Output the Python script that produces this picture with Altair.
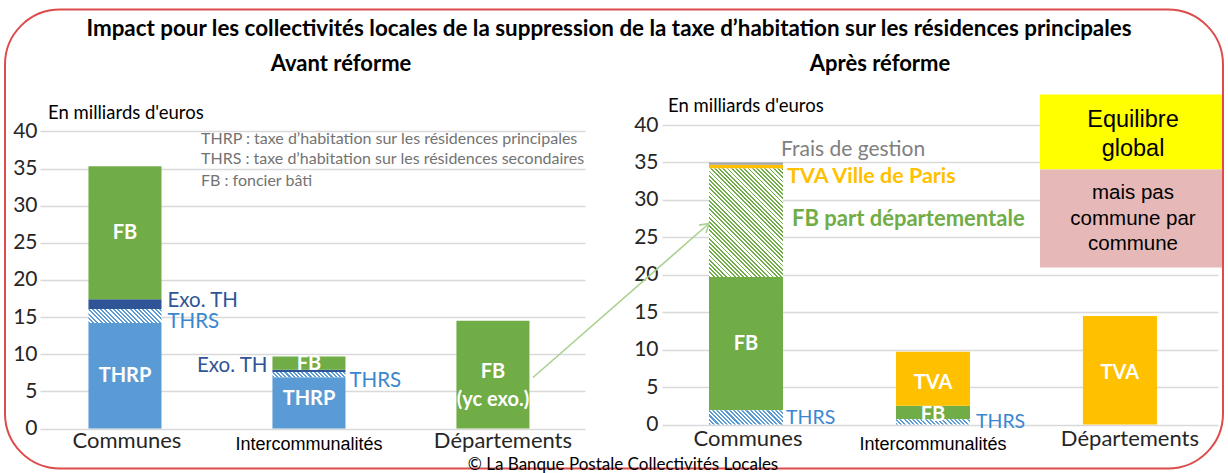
import math
import altair as alt
import pandas as pd

# ---------------- data ----------------
categories = ["Communes", "Intercommunalités", "Départements"]

# Avant réforme (Md€)
avant_thrp = [14.2, 6.9, 0.0]
avant_thrs = [1.9, 0.7, 0.0]
avant_exo = [1.3, 0.3, 0.0]
avant_fb = [17.9, 1.8, 14.5]

# Après réforme (Md€)
apres_thrs = [1.9, 0.7, 0.0]
apres_fb = [17.8, 1.8, 0.0]
apres_fb_dep = [14.5, 0.0, 0.0]
apres_tva_paris = [0.5, 0.0, 0.0]
apres_frais = [0.3, 0.0, 0.0]
apres_tva = [0.0, 7.2, 14.5]

y_ticks = [0, 5, 10, 15, 20, 25, 30, 35, 40]

# ---------------- styles ----------------
CAL = "Lato"
ARIAL = "Liberation Sans"
BLUE = "#5B9BD5"
DBLUE = "#2F5597"
LBLUE_TXT = "#3A87D0"
GREEN = "#70AD47"
YELLOW = "#FFC000"
GREY = "#A5A5A5"
GRID = "#D9D9D9"

seg_names = ["THRP", "Exo. TH", "FB", "TVA Paris", "Frais", "TVA"]
seg_colors = [BLUE, DBLUE, GREEN, YELLOW, GREY, YELLOW]
color_scale = alt.Scale(domain=seg_names, range=seg_colors)


def stack(cats, series):
    rows = []
    for i, c in enumerate(cats):
        base = 0.0
        for name, vals in series:
            v = vals[i]
            rows.append(dict(cat=c, seg=name, start=base, end=base + v, mid=base + v / 2, value=v))
            base += v
    df = pd.DataFrame(rows)
    return df[df.value > 0].reset_index(drop=True)


avant = stack(categories, [("THRP", avant_thrp), ("THRS", avant_thrs),
                           ("Exo. TH", avant_exo), ("FB", avant_fb)])
apres = stack(categories, [("THRS", apres_thrs), ("FB", apres_fb), ("FB dep", apres_fb_dep),
                           ("TVA Paris", apres_tva_paris), ("Frais", apres_frais), ("TVA", apres_tva)])

ONE = pd.DataFrame({"k": [0]})

# panel geometry
LW, LH, LYMAX = 545, 303.5, 40.87
RW, RH, RYMAX = 556, 299.5, 40.0
l_step = LW / (3 - 0.603 + 2 * 0.2826)
l_bw = l_step * (1 - 0.603)
r_step = RW / (3 - 0.604 + 2 * 0.289)
r_bw = r_step * (1 - 0.604)

xl = alt.Scale(domain=categories, paddingInner=0.603, paddingOuter=0.2826, align=0.466)
xr = alt.Scale(domain=categories, paddingInner=0.604, paddingOuter=0.289, align=0.435)
yl = alt.Scale(domain=[0, LYMAX], nice=False, zero=True)
yr = alt.Scale(domain=[0, RYMAX], nice=False, zero=True)


def yaxis(pad):
    return alt.Axis(values=y_ticks, grid=True, gridColor=GRID, gridWidth=1.5, domain=False,
                    ticks=False, labelFontSize=21, labelFont=CAL, labelColor="#262626",
                    labelPadding=pad, title=None)


AXL = yaxis(3)
AXR = yaxis(4)


def hatch(c_stripe, c_bg, w, h, period=4.2, frac=0.5):
    gx = (1 + h / w) / (1 + (h / w) ** 2)
    total = w + h
    stops = []
    k = 0
    while k * period / total < 1:
        t0 = k * period / total
        t1 = min((k * period + frac * period) / total, 1)
        t2 = min((k + 1) * period / total, 1)
        stops += [(t0, c_stripe), (t1, c_stripe), (t1, c_bg), (t2, c_bg)]
        k += 1
    return alt.LinearGradient(gradient="linear", x1=0, y1=1, x2=gx, y2=1 - gx * h / w,
                              stops=[alt.GradientStop(offset=o, color=c) for o, c in stops])


def txt(text, x, y, size, color="black", weight="normal", font=CAL, align="center"):
    return alt.Chart(ONE).mark_text(text=text, fontSize=size, color=color, fontWeight=weight,
                                    font=font, align=align, baseline="middle").encode(
        x=alt.value(x), y=alt.value(y))


def seg_label(df, xs, ys, ax, cat, seg, text, size=20, color="white", weight="bold",
              dx=0, dy=0, align="center", font=CAL, lh=None):
    row = df[(df.cat == cat) & (df.seg == seg)]
    kw = dict(text=text, fontSize=size, color=color, fontWeight=weight, font=font,
              align=align, baseline="middle", dx=dx, dy=dy)
    if lh:
        kw["lineHeight"] = lh
    return alt.Chart(row).mark_text(**kw).encode(
        x=alt.X("cat:N", scale=xs, axis=None), y=alt.Y("mid:Q", scale=ys, axis=ax))


def hatch_bar(df, xs, ys, ax, cat, seg, grad):
    row = df[(df.cat == cat) & (df.seg == seg)]
    return alt.Chart(row).mark_bar(fill=grad, stroke=None).encode(
        x=alt.X("cat:N", scale=xs, axis=None),
        y=alt.Y("start:Q", scale=ys, axis=ax), y2="end:Q")


def cat_labels(xs, h, y_main, y_inter, dx_dep):
    d = pd.DataFrame({"cat": categories})
    out = []
    for c in categories:
        if c == "Intercommunalités":
            m = alt.Chart(d).transform_filter(alt.datum.cat == c).mark_text(
                fontSize=18, font=ARIAL, color="black", baseline="middle")
            yy = h + y_inter
        else:
            m = alt.Chart(d).transform_filter(alt.datum.cat == c).mark_text(
                fontSize=22, font=CAL, color="#262626", baseline="middle",
                dx=dx_dep if c == "Départements" else 2)
            yy = h + y_main
        out.append(m.encode(x=alt.X("cat:N", scale=xs, axis=None), y=alt.value(yy), text="cat:N"))
    return out


def solid(df, xs, ys, ax, segs):
    return alt.Chart(df).transform_filter(
        alt.FieldOneOfPredicate(field="seg", oneOf=segs)).mark_bar().encode(
        x=alt.X("cat:N", scale=xs, axis=None),
        y=alt.Y("start:Q", scale=ys, axis=ax), y2="end:Q",
        color=alt.Color("seg:N", scale=color_scale, legend=None))


# ---------------- left panel: avant réforme ----------------
left_layers = [
    alt.Chart(ONE).mark_rect(filled=False, stroke="#DD4B4B", strokeWidth=2, cornerRadius=55).encode(
        x=alt.value(-35), x2=alt.value(1183), y=alt.value(-115.5), y2=alt.value(343.5)),
    solid(avant, xl, yl, AXL, ["THRP", "Exo. TH", "FB"]),
    hatch_bar(avant, xl, yl, AXL, "Communes", "THRS", hatch(BLUE, "white", l_bw, 1.9 * LH / LYMAX)),
    hatch_bar(avant, xl, yl, AXL, "Intercommunalités", "THRS", hatch(BLUE, "white", l_bw, 0.7 * LH / LYMAX)),
    seg_label(avant, xl, yl, AXL, "Communes", "FB", "FB"),
    seg_label(avant, xl, yl, AXL, "Communes", "THRP", "THRP"),
    seg_label(avant, xl, yl, AXL, "Intercommunalités", "FB", "FB", dy=1),
    seg_label(avant, xl, yl, AXL, "Intercommunalités", "THRP", "THRP", dy=-4),
    seg_label(avant, xl, yl, AXL, "Départements", "FB", ["FB", "(yc exo.)"], dy=-3, lh=28),
    seg_label(avant, xl, yl, AXL, "Communes", "Exo. TH", "Exo. TH", size=20.5, color=DBLUE,
              weight="normal", dx=l_bw / 2 + 6, dy=-3.5, align="left"),
    seg_label(avant, xl, yl, AXL, "Communes", "THRS", "THRS", size=20.5, color=LBLUE_TXT,
              weight="normal", dx=l_bw / 2 + 6, dy=6.5, align="left"),
    seg_label(avant, xl, yl, AXL, "Intercommunalités", "Exo. TH", "Exo. TH", size=20.5, color=DBLUE,
              weight="normal", dx=-(l_bw / 2 + 5), dy=-4.5, align="right"),
    seg_label(avant, xl, yl, AXL, "Intercommunalités", "THRS", "THRS", size=20.5, color=LBLUE_TXT,
              weight="normal", dx=l_bw / 2 + 4, dy=6, align="left"),
    *cat_labels(xl, LH, 12, 16, 10),
    txt("Impact pour les collectivités locales de la suppression de la taxe d’habitation sur les résidences principales",
        569, -96.5, 22.4, weight="bold"),
    txt("Avant réforme", 301, -61.5, 22, weight="bold"),
    txt("En milliards d'euros", 8, -12.5, 18.5, align="left"),
    txt("THRP : taxe d’habitation sur les résidences principales", 161, 13.5, 16, color="#737373", align="left"),
    txt("THRS : taxe d’habitation sur les résidences secondaires", 161, 33.5, 16, color="#737373", align="left"),
    txt("FB : foncier bâti", 161, 55.5, 16, color="#737373", align="left"),
    txt("© La Banque Postale Collectivités Locales", 583, 340, 17),
]
left = alt.layer(*left_layers).properties(width=LW, height=LH)

# ---------------- right panel: après réforme ----------------
# arrow (annotation) from the départements FB bar to the communes "FB part départementale"
tip_x, tip_y, tail_x, tail_y = 47, 98.5, -129, 252.5
ang = math.atan2(tip_y - tail_y, tip_x - tail_x)
arms = []
for s in (1, -1):
    a = ang + math.pi - s * math.radians(32)
    arms.append(alt.Chart(ONE).mark_rule(color="#A9D18E", strokeWidth=1.6).encode(
        x=alt.value(tip_x), y=alt.value(tip_y),
        x2=alt.value(tip_x + 10 * math.cos(a)), y2=alt.value(tip_y + 10 * math.sin(a))))

right_layers = [
    solid(apres, xr, yr, AXR, ["FB", "TVA Paris", "Frais", "TVA"]),
    hatch_bar(apres, xr, yr, AXR, "Communes", "FB dep", hatch(GREEN, "white", r_bw, 14.5 * RH / RYMAX, frac=0.45)),
    hatch_bar(apres, xr, yr, AXR, "Communes", "THRS", hatch(BLUE, "white", r_bw, 1.9 * RH / RYMAX)),
    hatch_bar(apres, xr, yr, AXR, "Intercommunalités", "THRS", hatch(BLUE, "white", r_bw, 0.7 * RH / RYMAX)),
    seg_label(apres, xr, yr, AXR, "Communes", "FB", "FB"),
    seg_label(apres, xr, yr, AXR, "Intercommunalités", "TVA", "TVA", dy=4),
    seg_label(apres, xr, yr, AXR, "Intercommunalités", "FB", "FB", dy=2),
    seg_label(apres, xr, yr, AXR, "Départements", "TVA", "TVA", dy=3),
    seg_label(apres, xr, yr, AXR, "Communes", "Frais", "Frais de gestion", size=21, color="#808080",
              weight="normal", dx=r_bw / 2 - 2, dy=-14, align="left"),
    seg_label(apres, xr, yr, AXR, "Communes", "TVA Paris", "TVA Ville de Paris", size=21.5, color=YELLOW,
              dx=r_bw / 2 + 4, dy=10, align="left"),
    seg_label(apres, xr, yr, AXR, "Communes", "FB dep", "FB part départementale", size=22, color=GREEN,
              dx=r_bw / 2 + 9, dy=-4, align="left"),
    seg_label(apres, xr, yr, AXR, "Communes", "THRS", "THRS", size=19.5, color=LBLUE_TXT,
              weight="normal", dx=r_bw / 2 + 3, dy=1, align="left"),
    seg_label(apres, xr, yr, AXR, "Intercommunalités", "THRS", "THRS", size=19.5, color=LBLUE_TXT,
              weight="normal", dx=r_bw / 2 + 6, dy=0, align="left"),
    *cat_labels(xr, RH, 14, 20, 10),
    txt("Après réforme", 218, -61.5, 22, weight="bold"),
    txt("En milliards d'euros", 6, -19.5, 18.5, align="left"),
    alt.Chart(ONE).mark_rule(color="#A9D18E", strokeWidth=1.6).encode(
        x=alt.value(tail_x), y=alt.value(tail_y), x2=alt.value(tip_x), y2=alt.value(tip_y)),
    *arms,
    # boxes
    alt.Chart(ONE).mark_rect(color="#FFFF00").encode(
        x=alt.value(378), x2=alt.value(560), y=alt.value(-30.5), y2=alt.value(44.5)),
    alt.Chart(ONE).mark_rect(color="#E6B9B8").encode(
        x=alt.value(378), x2=alt.value(560), y=alt.value(44.5), y2=alt.value(142.5)),
    txt("Equilibre", 471, -5, 23.5, font=ARIAL),
    txt("global", 471, 23.5, 23.5, font=ARIAL),
    txt("mais pas", 471, 68, 20.5, font=ARIAL),
    txt("commune par", 471, 93.5, 20.5, font=ARIAL),
    txt("commune", 471, 119, 20.5, font=ARIAL),
]
right = alt.layer(*right_layers).properties(width=RW, height=RH)

chart = alt.hconcat(left, right, spacing=77, bounds="flush").resolve_scale(
    x="independent", y="independent", color="independent"
).properties(
    padding={"left": 4, "top": 8, "right": 4, "bottom": 4}, background="white"
).configure_view(stroke=None)

chart.save("out.html", embed_options={"renderer": "svg", "actions": False})
